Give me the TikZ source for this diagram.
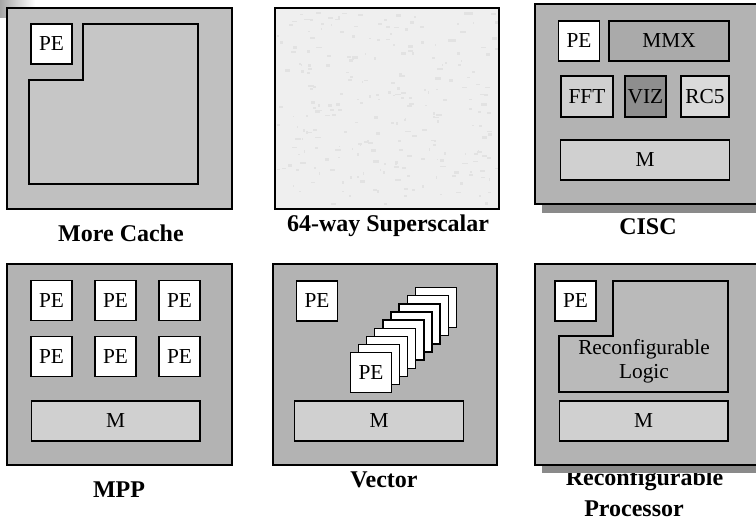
\documentclass[tikz,border=0pt]{standalone}
\usepackage{fontspec}
\setmainfont{Liberation Serif}
\definecolor{grigiochiaro}{HTML}{C0C0C0}
\definecolor{grigiocache}{HTML}{C6C6C6}
\definecolor{grigiopannello}{HTML}{B3B3B3}
\definecolor{grigioombra}{HTML}{8A8A8A}
\definecolor{grigiomem}{HTML}{D0D0D0}
\definecolor{grigiologica}{HTML}{BABABA}
\definecolor{grigioviz}{HTML}{8E8E8E}
\definecolor{grigiorc}{HTML}{DADADA}
\definecolor{grigiosuper}{HTML}{EFEFEF}
\definecolor{grigiograna}{HTML}{E2E2E2}
\begin{document}
\begin{tikzpicture}[x=0.75pt,y=-0.75pt,
    pannello/.style={draw, line width=1pt, fill=grigiopannello},
    blocco/.style={draw, line width=1pt, inner sep=0pt, font=\fontsize{16}{18}\selectfont},
    pe/.style={blocco, fill=white, minimum width=30.75pt, minimum height=30pt},
    mem/.style={blocco, fill=grigiomem, minimum width=126.5pt, minimum height=30pt},
    titolo/.style={font=\fontsize{18}{24}\selectfont\bfseries, align=center}]
    \useasboundingbox (0,0) rectangle (756,522);
    \shade[left color=gray!70, right color=white] (0,0) rectangle (35,17);
    % More Cache
    \draw[pannello, fill=grigiochiaro] (7,8) rectangle (232,209);
    \node[pe] (pe1) at (51.5,44) {PE};
    \draw[line width=1pt, fill=grigiocache] (83,24) -- (198,24) -- (198,184)
        -- (29,184) -- (29,80) -- (83,80) -- cycle;
    \node[titolo] (t1) at (121,233) {More Cache};
    % 64-way Superscalar (fondo granuloso)
    \fill[grigiosuper] (275,8) rectangle (499,209);
    \pgfmathsetseed{7}
    \foreach \k in {1,...,260}
        \fill[grigiograna] ({277+220*rnd},{10+193*rnd}) rectangle ++({1+5*rnd},{1+2*rnd});
    \draw[line width=1pt] (275,8) rectangle (499,209);
    \node[titolo] (t2) at (388,226) {64-way Superscalar};
    % CISC
    \fill[grigioombra] (542,15) rectangle (764,213);
    \draw[pannello] (535,4) rectangle (760,204);
    \node[pe] (pe3) at (579,41) {PE};
    \node[blocco, fill=grigiopannello!95!black, minimum width=90pt, minimum height=30pt] (mmx) at (669,41) {MMX};
    \node[blocco, fill=grigiomem, minimum width=39pt, minimum height=30.75pt] (fft) at (587,96.5) {FFT};
    \node[blocco, fill=grigioviz, minimum width=30.75pt, minimum height=30.75pt] (viz) at (645.5,96.5) {VIZ};
    \node[blocco, fill=grigiorc, minimum width=36pt, minimum height=30.75pt] (rc5) at (705,96.5) {RC5};
    \node[mem] (m3) at (645,160) {M};
    \node[titolo] (t3) at (648,227) {CISC};
    % MPP
    \draw[pannello] (7,264) rectangle (232,465);
    \foreach \r/\y in {1/300.5,2/356.5}
        \foreach \c/\x in {1/51.5,2/115.5,3/179.5}
            \node[pe] (pe4-\r\c) at (\x,\y) {PE};
    \node[mem] (m4) at (115.5,421) {M};
    \node[titolo] (t4) at (119,490) {MPP};
    % Vector
    \draw[pannello] (273,264) rectangle (497,465);
    \node[pe] (pe5) at (317,301) {PE};
    \foreach \i in {8,...,1}
        \node[pe] (vpe\i) at ({371+8.1*\i},{372.5-8.1*\i}) {};
    \node[pe] (vpe0) at (371,372.5) {PE};
    \node[mem] (m5) at (379,421) {M};
    \node[titolo] (t5) at (384,480) {Vector};
    % Reconfigurable Processor (l'ombra copre in parte la didascalia)
    \node[titolo] (t6a) at (644.5,480) {Reconfigurable};
    \node[titolo, inner sep=0pt] (t6b) at (634,508.5) {Processor};
    \fill[grigioombra] (542,272) rectangle (764,473);
    \draw[pannello] (535,264) rectangle (760,465);
    \node[pe] (pe6) at (575.5,301) {PE};
    \draw[line width=1pt, fill=grigiologica] (613,281) -- (728,281) -- (728,392)
        -- (559,392) -- (559,336) -- (613,336) -- cycle;
    \node[font=\fontsize{16}{18}\selectfont, align=center] (logica) at (644,361) {Reconfigurable\\Logic};
    \node[mem] (m6) at (643.5,421) {M};
\end{tikzpicture}
\end{document}
